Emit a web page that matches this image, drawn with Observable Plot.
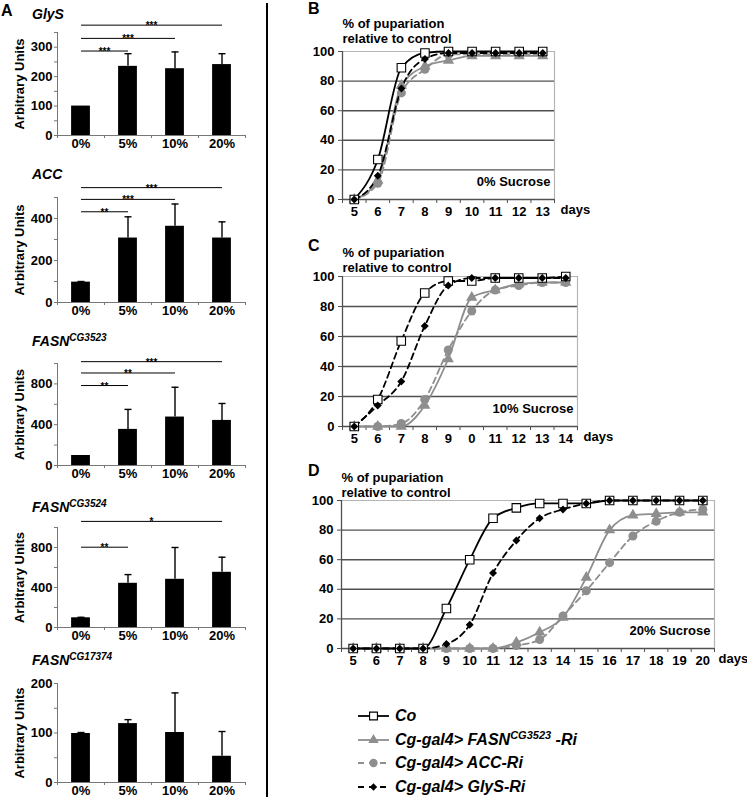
<!DOCTYPE html>
<html><head><meta charset="utf-8">
<script src="https://cdn.jsdelivr.net/npm/d3@7"></script>
<script src="https://cdn.jsdelivr.net/npm/@observablehq/plot@0.6"></script>
<style>
body{margin:0;background:#fff;}
#fig{position:relative;width:747px;height:800px;font-family:"Liberation Sans",Arial,sans-serif;color:#000;overflow:hidden;background:#fff}
.abs{position:absolute;white-space:nowrap;line-height:1}
.letter{font-weight:bold;font-size:16px}
.gtitle{font-weight:bold;font-style:italic;font-size:14px}
.gtitle sup{font-size:10px;vertical-align:0;position:relative;top:-5px}
.leg{font-weight:bold;font-style:italic;font-size:16px;display:flex;align-items:center}
.leg sup{font-size:11px;position:relative;top:-6px;vertical-align:0}
</style></head><body><div id="fig"></div>
<script>
// ---------- Panel A data ----------
const sucrose = ["0%", "5%", "10%", "20%"];
const glysMean = [100, 235, 227, 241];
const glysErr  = [0, 43, 57, 37];
const glysSig  = [["20%", 375, "***"], ["10%", 330, "***"], ["5%", 287, "***"]];
const accMean  = [97, 307, 363, 307];
const accErr   = [3, 101, 106, 77];
const accSig   = [["20%", 547, "***"], ["10%", 491, "***"], ["5%", 432, "**"]];
const f3523Mean = [98, 354, 475, 442];
const f3523Err  = [0, 196, 292, 166];
const f3523Sig  = [["20%", 1018, "***"], ["10%", 907, "**"], ["5%", 784, "**"]];
const f3524Mean = [97, 442, 482, 552];
const f3524Err  = [5, 87, 318, 151];
const f3524Sig  = [["20%", 1061, "*"], ["5%", 803, "**"]];
const f17374Mean = [99, 119, 101, 53];
const f17374Err  = [2, 8, 80, 50];
const f17374Sig  = [];

// ---------- Panels B-D data ----------
const seriesKeys = ["ACC", "FASN", "Co", "GlyS"]; // drawing order
const daysB = [5, 6, 7, 8, 9, 10, 11, 12, 13];
const labelsB = ["5", "6", "7", "8", "9", "10", "11", "12", "13"];
const coB   = [0, 27, 89, 99, 100, 100, 100, 100, 100];
const fasnB = [0, 13, 77, 90, 94, 97, 97, 97, 97];
const accB  = [0, 11, 72, 88, 98, 98, 98, 98, 98];
const glysB = [0, 16, 75, 95, 99, 99, 99, 99, 99];

const daysC = [5, 6, 7, 8, 9, 10, 11, 12, 13, 14];
const labelsC = ["5", "6", "7", "8", "9", "0", "11", "12", "13", "14"];
const coC   = [0, 18, 57, 89, 97, 97, 99, 99, 99, 100];
const fasnC = [0, 0, 0, 14, 45, 86, 91, 95, 96, 96];
const accC  = [0, 0, 2, 18, 51, 77, 91, 94, 96, 96];
const glysC = [0, 14, 30, 67, 94, 99, 99, 99, 99, 99];

const daysD = [5, 6, 7, 8, 9, 10, 11, 12, 13, 14, 15, 16, 17, 18, 19, 20];
const labelsD = ["5", "6", "7", "8", "9", "10", "11", "12", "13", "14", "15", "16", "17", "18", "19", "20"];
const coD   = [0, 0, 0, 0, 27, 60, 88, 95, 98, 98, 98, 100, 100, 100, 100, 100];
const fasnD = [0, 0, 0, 0, 0, 0, 0, 4, 11, 21, 48, 80, 90, 91, 92, 92];
const accD  = [0, 0, 0, 0, 0, 0, 0, 2, 6, 22, 39, 58, 76, 86, 92, 94];
const glysD = [0, 0, 0, 0, 3, 16, 51, 73, 88, 94, 98, 100, 100, 100, 100, 100];

// ---------- styles ----------
const FONT = '"Liberation Sans", Arial, sans-serif';
const GRAY = "#8e8e8e";
const seriesStyle = {
  Co:   {stroke: "#000", dash: null,  symbol: "square",   fill: "#fff", dotStroke: "#000", r: 4.8},
  FASN: {stroke: GRAY,   dash: null,  symbol: "triangle", fill: GRAY,   dotStroke: "none", r: 4.2},
  ACC:  {stroke: GRAY,   dash: "6,4", symbol: "circle",   fill: GRAY,   dotStroke: "none", r: 4.5},
  GlyS: {stroke: "#000", dash: "6,4", symbol: "diamond2", fill: "#000", dotStroke: "none", r: 3.6}
};

const fig = document.getElementById("fig");
function place(el, left, top) {
  el.style.position = "absolute";
  el.style.left = left + "px";
  el.style.top = top + "px";
  fig.appendChild(el);
}
function html(cls, inner, left, top) {
  const d = document.createElement("div");
  d.className = "abs " + cls;
  d.innerHTML = inner;
  place(d, left, top);
  return d;
}

// ---------- Bar chart (panel A) ----------
function barChart(o) {
  const idx = sucrose.map((_, i) => i);
  const rows = idx.map(i => ({i, v: o.mean[i], e: o.err[i]}));
  const withErr = rows.filter(d => d.e > 0);
  const plotLeft = 57, plotRight = 245;
  const mt = 40, mb = 22, ml = 57, mr = 15;
  const plotH = o.bottom - o.top;
  const sig = o.sig.map(s => ({to: sucrose.indexOf(s[0]), y: s[1], label: s[2]}));
  const chart = Plot.plot({
    width: ml + (plotRight - plotLeft) + mr,
    height: mt + plotH + mb,
    marginTop: mt, marginBottom: mb, marginLeft: ml, marginRight: mr,
    style: {background: "transparent", overflow: "visible", fontFamily: FONT, fontSize: "13px", fontWeight: "bold", color: "#000"},
    x: {type: "linear", domain: [-0.5, 3.5]},
    y: {domain: [0, o.max]},
    marks: [
      Plot.axisY({ticks: d3.range(0, o.max + 1e-9, o.minor), tickFormat: d => (d % o.major === 0 ? String(d) : ""), tickSize: 3, tickPadding: 2, stroke: "#777", label: null}),
      Plot.axisX({ticks: [-0.5, 0.5, 1.5, 2.5, 3.5], tickFormat: () => "", tickSize: 3, stroke: "#777", label: null}),
      Plot.axisX({ticks: idx, tickFormat: i => sucrose[i], tickSize: 0, tickPadding: 3, label: null}),
      Plot.ruleX([-0.5], {stroke: "#777"}),
      Plot.ruleY([0], {stroke: "#777"}),
      Plot.rectY(rows, {x1: d => d.i - 0.2, x2: d => d.i + 0.2, y: "v", fill: "#000"}),
      Plot.ruleX(withErr, {x: "i", y1: "v", y2: d => d.v + d.e, stroke: "#000", strokeWidth: 1.4}),
      Plot.link(withErr, {x1: d => d.i - 0.075, x2: d => d.i + 0.075, y1: d => d.v + d.e, y2: d => d.v + d.e, stroke: "#000", strokeWidth: 1.4}),
      Plot.link(sig, {x1: () => 0, x2: "to", y1: "y", y2: "y", stroke: "#000", strokeWidth: 1}),
      Plot.text(sig, {x: d => d.to / 2, y: "y", text: "label", fontSize: 10, lineAnchor: "bottom", dy: 4}),
      Plot.text(["Arbitrary Units"], {frameAnchor: "left", textAnchor: "middle", rotate: -90, dx: -38, fontSize: 13})
    ]
  });
  place(chart, 0, o.top - mt);
}

barChart({mean: glysMean, err: glysErr, sig: glysSig, max: 350, major: 100, minor: 50, top: 32, bottom: 135});
barChart({mean: accMean, err: accErr, sig: accSig, max: 500, major: 200, minor: 100, top: 197, bottom: 302});
barChart({mean: f3523Mean, err: f3523Err, sig: f3523Sig, max: 1000, major: 400, minor: 200, top: 363, bottom: 465});
barChart({mean: f3524Mean, err: f3524Err, sig: f3524Sig, max: 1000, major: 400, minor: 200, top: 527, bottom: 627});
barChart({mean: f17374Mean, err: f17374Err, sig: f17374Sig, max: 200, major: 100, minor: 50, top: 683, bottom: 782});

html("gtitle", "GlyS", 32, 7);
html("gtitle", "ACC", 32, 167);
html("gtitle", "FASN<sup>CG3523</sup>", 32, 334);
html("gtitle", "FASN<sup>CG3524</sup>", 32, 500);
html("gtitle", "FASN<sup>CG17374</sup>", 32, 653);

// ---------- Line charts (panels B-D) ----------
function lineChart(o) {
  const ml = 48, mr = 45, mt = 40, mb = 26;
  const rows = [];
  for (const key of seriesKeys) o.values[key].forEach((v, i) => rows.push({key, day: o.days[i], v}));
  const x0 = o.days[0] - 0.5, x1 = o.days[o.days.length - 1] + 0.5;
  const bounds = d3.range(x0, x1 + 1e-9, 1);
  const marks = [
    Plot.ruleY([20, 40, 60, 80], {stroke: "#505050", strokeWidth: 1.4}),
    Plot.ruleY([100], {stroke: "#b5b5b5", strokeWidth: 1.2}),
    Plot.ruleX([x1], {stroke: "#b5b5b5", strokeWidth: 1.2}),
    Plot.ruleX([x0], {stroke: "#505050", strokeWidth: 1.3}),
    Plot.ruleY([0], {stroke: "#505050", strokeWidth: 1.3}),
    Plot.axisY({ticks: [0, 20, 40, 60, 80, 100], tickSize: 4, tickPadding: 4, stroke: "#505050", label: null}),
    Plot.axisX({ticks: bounds, tickFormat: () => "", tickSize: 4, stroke: "#505050", label: null}),
    Plot.axisX({ticks: o.days, tickFormat: d => o.labels[o.days.indexOf(d)], tickSize: 0, tickPadding: 7, label: null})
  ];
  for (const key of seriesKeys) {
    const s = seriesStyle[key];
    const dash = (key === "Co" && o.coDashed) ? "6,4" : s.dash;
    marks.push(Plot.line(rows.filter(d => d.key === key), {x: "day", y: "v", stroke: s.stroke, strokeWidth: 1.8, strokeDasharray: dash, curve: "monotone-x"}));
  }
  for (const key of seriesKeys) {
    const s = seriesStyle[key];
    marks.push(Plot.dot(rows.filter(d => d.key === key), {x: "day", y: "v", symbol: () => s.symbol, fill: s.fill, stroke: s.dotStroke, strokeWidth: 1.1, r: s.r}));
  }
  marks.push(
    Plot.text([o.sucrose], {frameAnchor: "bottom-right", dx: -4, dy: -14, textAnchor: "end"}),
    Plot.text(["days"], {frameAnchor: "bottom-right", dx: o.daysDx, dy: 14, textAnchor: "start"}),
    Plot.text(["% of pupariation\nrelative to control"], {frameAnchor: "top-left", textAnchor: "start", lineAnchor: "bottom", lineHeight: 1.08, dy: o.titleDy})
  );
  const chart = Plot.plot({
    width: ml + (o.right - o.left) + mr,
    height: mt + (o.bottom - o.top) + mb,
    marginTop: mt, marginBottom: mb, marginLeft: ml, marginRight: mr,
    style: {background: "transparent", overflow: "visible", fontFamily: FONT, fontSize: "13px", fontWeight: "bold", color: "#000"},
    x: {type: "linear", domain: [x0, x1]},
    y: {domain: [0, 100]},
    symbol: {type: "identity"},
    marks
  });
  place(chart, o.left - ml, o.top - mt);
}

lineChart({days: daysB, labels: labelsB, values: {Co: coB, FASN: fasnB, ACC: accB, GlyS: glysB},
  left: 342, right: 554, top: 51, bottom: 199, sucrose: "0% Sucrose", titleDy: -9, coDashed: false, daysDx: 6});
lineChart({days: daysC, labels: labelsC, values: {Co: coC, FASN: fasnC, ACC: accC, GlyS: glysC},
  left: 342, right: 577, top: 276, bottom: 426, sucrose: "10% Sucrose", titleDy: -5, coDashed: true, daysDx: 6});
lineChart({days: daysD, labels: labelsD, values: {Co: coD, FASN: fasnD, ACC: accD, GlyS: glysD},
  left: 341, right: 714, top: 500, bottom: 648, sucrose: "20% Sucrose", titleDy: -4, coDashed: false, daysDx: 4});

// ---------- panel letters & divider ----------
html("letter", "A", 1, 3);
html("letter", "B", 308, 1);
html("letter", "C", 308, 238);
html("letter", "D", 308, 463);
const divider = document.createElement("div");
divider.style.cssText = "width:2.5px;height:794px;background:#000";
place(divider, 265.5, 3);

// ---------- legend ----------
const legendKeys = ["Co", "FASN", "ACC", "GlyS"];
const legendText = ["Co", "Cg-gal4&gt; FASN<sup>CG3523</sup> -Ri", "Cg-gal4&gt; ACC-Ri", "Cg-gal4&gt; GlyS-Ri"];
const legendY = [716, 739.5, 763, 786.5];
legendKeys.forEach((key, i) => {
  const s = seriesStyle[key];
  const row = document.createElement("div");
  row.className = "abs leg";
  const svg = d3.create("svg").attr("width", 34).attr("height", 14).style("margin-right", "4px");
  svg.append("line").attr("x1", 1).attr("x2", 32).attr("y1", 7).attr("y2", 7)
    .attr("stroke", s.stroke).attr("stroke-width", 1.8).attr("stroke-dasharray", s.dash ? "6,5" : null);
  const sym = {square: d3.symbolSquare, triangle: d3.symbolTriangle, circle: d3.symbolCircle, diamond2: d3.symbolDiamond2}[s.symbol];
  const size = Math.PI * s.r * s.r * 0.85;
  svg.append("path").attr("d", d3.symbol(sym, size)()).attr("transform", "translate(16.5,7)")
    .attr("fill", s.fill).attr("stroke", s.dotStroke === "none" ? null : s.dotStroke).attr("stroke-width", 1.1);
  row.appendChild(svg.node());
  const t = document.createElement("span");
  t.innerHTML = legendText[i];
  row.appendChild(t);
  place(row, 357, legendY[i] - 8);
});
</script></body></html>
